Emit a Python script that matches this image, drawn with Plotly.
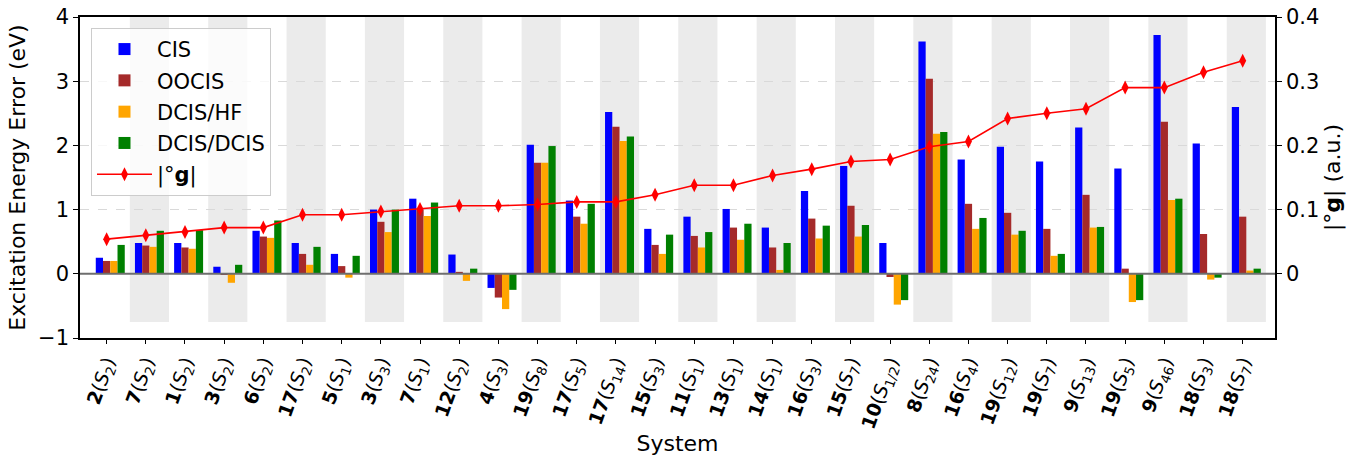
import plotly.graph_objects as go

# Systems (molecule number, excited state label)
molecules = ["2", "7", "1", "3", "6", "17", "5", "3", "7", "12", "4", "19", "17", "17", "15",
             "11", "13", "14", "16", "15", "10", "8", "16", "19", "19", "9", "19", "9", "18", "18"]
states = ["2", "2", "2", "2", "2", "2", "1", "3", "1", "2", "3", "8", "5", "14", "3",
          "1", "1", "1", "3", "7", "1/2", "24", "4", "12", "7", "13", "5", "46", "3", "7"]

# Excitation energy errors (eV)
cis = [0.25, 0.48, 0.48, 0.11, 0.67, 0.48, 0.31, 1.00, 1.17, 0.30, -0.22, 2.01, 1.14, 2.52, 0.70,
       0.89, 1.01, 0.72, 1.29, 1.68, 0.48, 3.62, 1.78, 1.98, 1.75, 2.28, 1.64, 3.72, 2.03, 2.60]
oocis = [0.20, 0.44, 0.41, -0.01, 0.58, 0.31, 0.12, 0.81, 1.00, 0.03, -0.37, 1.73, 0.89, 2.29, 0.45,
         0.59, 0.72, 0.41, 0.86, 1.06, -0.05, 3.04, 1.09, 0.95, 0.70, 1.23, 0.08, 2.37, 0.62, 0.89]
dcis_hf = [0.20, 0.42, 0.39, -0.14, 0.56, 0.14, -0.06, 0.65, 0.90, -0.11, -0.55, 1.73, 0.78, 2.07, 0.31,
           0.41, 0.53, 0.06, 0.55, 0.58, -0.48, 2.18, 0.70, 0.61, 0.28, 0.72, -0.44, 1.15, -0.09, 0.05]
dcis_dcis = [0.45, 0.67, 0.68, 0.14, 0.83, 0.42, 0.28, 1.00, 1.11, 0.08, -0.25, 1.99, 1.09, 2.14, 0.61,
             0.65, 0.78, 0.48, 0.75, 0.76, -0.41, 2.21, 0.87, 0.67, 0.31, 0.73, -0.41, 1.17, -0.06, 0.08]

# Norm of the orbital gradient (a.u.)
grad_norm = [0.054, 0.060, 0.065, 0.072, 0.072, 0.092, 0.092, 0.097, 0.101, 0.106, 0.106, 0.108, 0.112,
             0.112, 0.123, 0.138, 0.138, 0.153, 0.163, 0.175, 0.178, 0.198, 0.206, 0.242, 0.250, 0.257,
             0.290, 0.290, 0.314, 0.332]

series = [
    ("CIS", cis, "#0000ff"),
    ("OOCIS", oocis, "#a52a2a"),
    ("DCIS/HF", dcis_hf, "#ffa500"),
    ("DCIS/DCIS", dcis_dcis, "#008000"),
]

n = len(molecules)
idx = list(range(n))
w = 0.185
offsets = [-w, 0.0, w, 2 * w]

labels = [f"<b>{m}</b>(<i>S</i><sub>{s}</sub>)" for m, s in zip(molecules, states)]

FONT = "DejaVu Sans"

fig = go.Figure()

for (name, vals, color), off in zip(series, offsets):
    fig.add_trace(go.Bar(
        x=[i + off for i in idx], y=vals, width=w, name=name,
        marker=dict(color=color, line=dict(width=0)),
        legendgroup=name,
    ))

fig.add_trace(go.Scatter(
    x=idx, y=grad_norm, yaxis="y2", mode="lines+markers", name="|°<b>g</b>|",
    line=dict(color="#ff0000", width=1.6),
    marker=dict(symbol="diamond-tall", size=10, color="#ff0000"),
    legendgroup="g",
))

# alternating shaded columns
shapes = []
for i in idx:
    if i % 2 == 1:
        shapes.append(dict(
            type="rect", xref="x", yref="y domain",
            x0=i - 0.5 + w / 2, x1=i + 0.5 + w / 2, y0=0.05, y1=1,
            fillcolor="#ebebeb", line=dict(width=0), layer="below",
        ))
# horizontal line at zero
shapes.append(dict(
    type="line", xref="paper", yref="y", x0=0, x1=1, y0=0, y1=0,
    line=dict(color="#6e6e6e", width=2), layer="above",
))

fig.update_layout(
    width=1361, height=460,
    margin=dict(l=80, r=86, t=17, b=122, autoexpand=False),
    plot_bgcolor="white", paper_bgcolor="white",
    font=dict(family=FONT, size=20, color="black"),
    barmode="overlay",
    shapes=shapes,
    showlegend=True,
    legend=dict(
        x=0.0092, y=0.966, xanchor="left", yanchor="top",
        bgcolor="rgba(255,255,255,0.8)", bordercolor="#cccccc", borderwidth=1,
        font=dict(family=FONT, size=21), traceorder="grouped", tracegroupgap=1,
        itemwidth=55,
    ),
    xaxis=dict(
        range=[-0.68, 29.825], automargin=False,
        tickmode="array", tickvals=idx, ticktext=labels, tickangle=-70,
        ticks="outside", ticklen=4, tickcolor="black",
        showline=True, linecolor="black", linewidth=1.5, mirror=True,
        showgrid=False, zeroline=False,
        tickfont=dict(family=FONT, size=19),
        title=dict(text="System", font=dict(family=FONT, size=22), standoff=4),
    ),
    yaxis=dict(
        range=[-1, 4], automargin=False, tickmode="array", tickvals=[-1, 0, 1, 2, 3, 4],
        ticks="outside", ticklen=5, tickcolor="black",
        showline=True, linecolor="black", linewidth=1.5,
        showgrid=True, gridcolor="#d9d9d9", griddash="dash", gridwidth=1,
        zeroline=False,
        tickfont=dict(family=FONT, size=21),
        title=dict(text="Excitation Energy Error (eV)", font=dict(family=FONT, size=22), standoff=6),
    ),
    yaxis2=dict(
        overlaying="y", side="right", range=[-0.1, 0.4], automargin=False,
        tickmode="array", tickvals=[0, 0.1, 0.2, 0.3, 0.4], ticktext=["0", "0.1", "0.2", "0.3", "0.4"],
        ticks="outside", ticklen=5, tickcolor="black",
        showline=True, linecolor="black", linewidth=1.5,
        showgrid=False, zeroline=False,
        tickfont=dict(family=FONT, size=21),
        title=dict(text="|°<b>g</b>| (a.u.)", font=dict(family=FONT, size=22), standoff=6),
    ),
)

fig.write_html("out.html")
